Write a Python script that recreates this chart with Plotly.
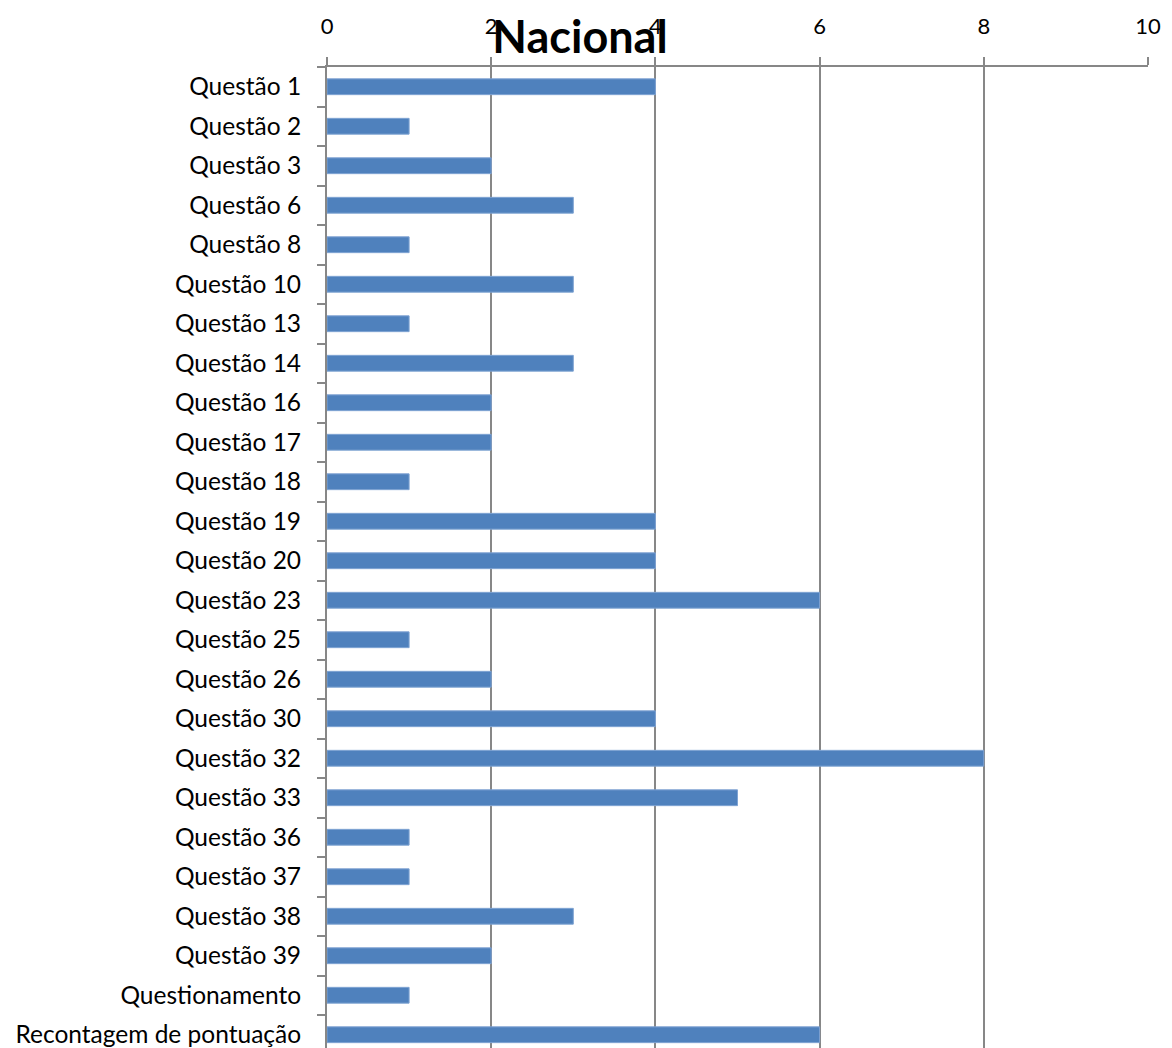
import plotly.graph_objects as go

categories = ["Questão 1", "Questão 2", "Questão 3", "Questão 6", "Questão 8", "Questão 10",
              "Questão 13", "Questão 14", "Questão 16", "Questão 17", "Questão 18", "Questão 19",
              "Questão 20", "Questão 23", "Questão 25", "Questão 26", "Questão 30", "Questão 32",
              "Questão 33", "Questão 36", "Questão 37", "Questão 38", "Questão 39",
              "Questionamento", "Recontagem de pontuação"]
values = [4, 1, 2, 3, 1, 3, 1, 3, 2, 2, 1, 4, 4, 6, 1, 2, 4, 8, 5, 1, 1, 3, 2, 1, 6]
x_ticks = [0, 2, 4, 6, 8, 10]

fig = go.Figure(go.Bar(
    x=values, y=categories, orientation="h",
    marker=dict(color="#4F81BD", line=dict(color="#7FA3D3", width=1)),
    width=0.4,
))

grid = "#878787"
fig.update_layout(
    width=1172, height=1048,
    margin=dict(l=327, r=24, t=67, b=0, autoexpand=False),
    paper_bgcolor="white", plot_bgcolor="white",
    font=dict(family="Lato, Noto Sans, sans-serif", color="black"),
    title=dict(text="<b>Nacional</b>", x=580 / 1172, xanchor="center", y=1 - 37 / 1048, yanchor="middle",
               font=dict(size=45, family="Lato, Noto Sans, sans-serif", color="black")),
    showlegend=False,
    bargap=0.6,
)
fig.update_xaxes(
    side="top", range=[0, 10], tickvals=x_ticks, ticktext=[str(t) for t in x_ticks],
    showgrid=True, gridcolor=grid, gridwidth=1.5,
    showline=True, linecolor=grid, linewidth=2,
    ticks="outside", ticklen=8, tickcolor=grid, tickwidth=1.5,
    tickfont=dict(size=22), ticklabelstandoff=14, zeroline=False, automargin=False,
)
fig.update_yaxes(
    type="category", categoryorder="array", categoryarray=categories,
    range=[24.5 - 6.5 / 39.5, -0.5],
    showline=True, linecolor=grid, linewidth=2,
    ticks="outside", ticklen=8, tickcolor=grid, tickwidth=1.5, tickson="boundaries",
    tickfont=dict(size=24.5), ticklabelstandoff=19, showgrid=False, automargin=False,
)
fig.write_html("out.html", config={"displayModeBar": False},
               post_script="document.body.style.margin='0';document.body.style.overflow='hidden';")
